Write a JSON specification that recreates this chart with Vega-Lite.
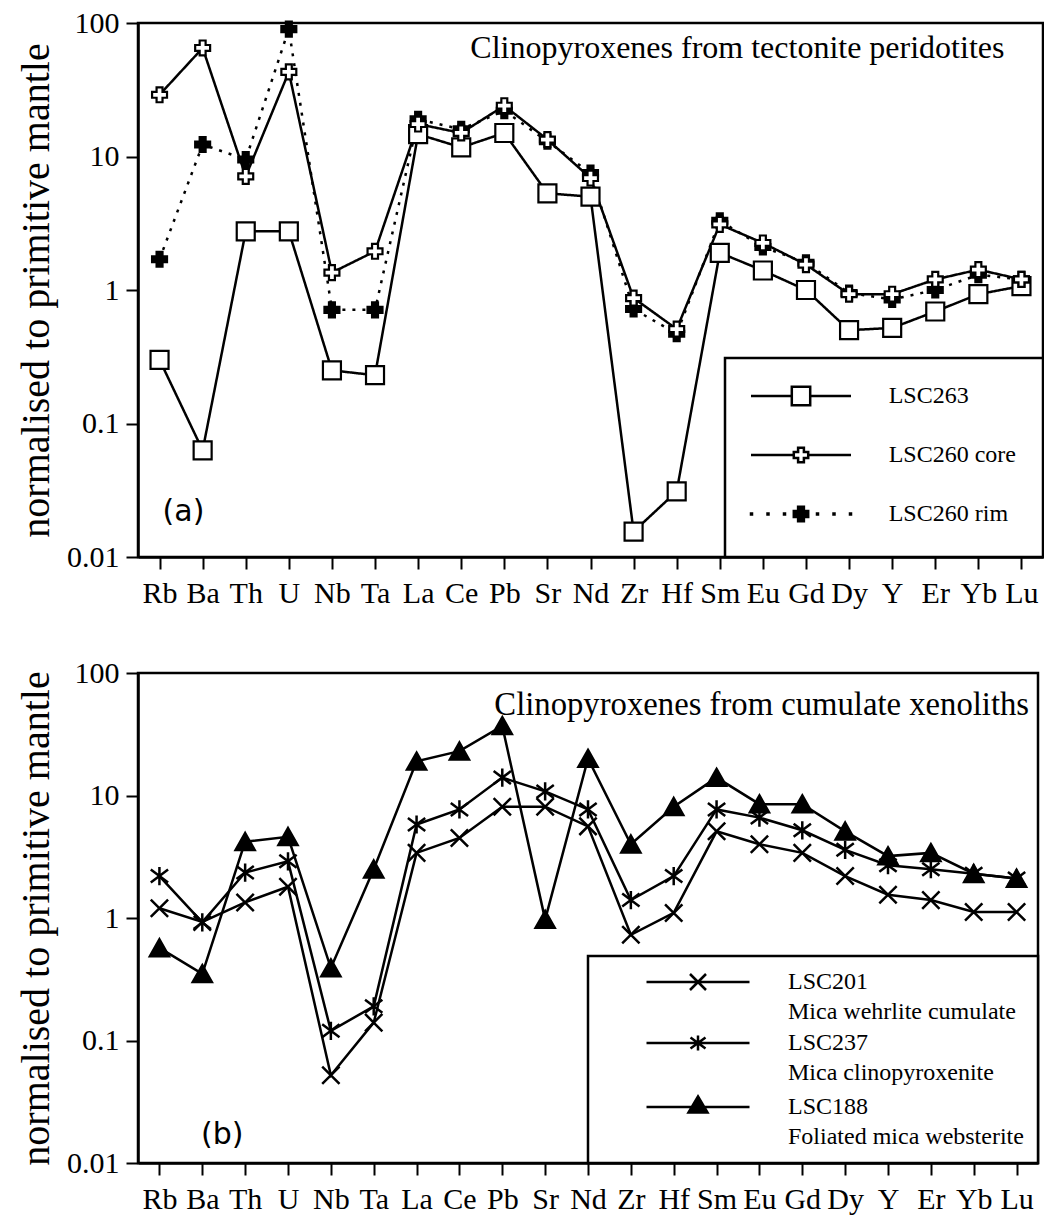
{
  "$schema": "https://vega.github.io/schema/vega-lite/v6.json",
  "background": "white",
  "padding": {"left": 15, "top": 6, "right": 0, "bottom": 0},
  "spacing": 46,
  "config": {
    "view": {"stroke": "black", "strokeWidth": 2.5},
    "font": "Liberation Serif",
    "axis": {
      "domainColor": "black", "domainWidth": 2.5,
      "tickColor": "black", "tickWidth": 2, "tickSize": 12,
      "labelColor": "black", "labelFont": "Liberation Serif", "labelFontSize": 30,
      "titleFont": "Liberation Serif", "titleFontSize": 40, "titleFontWeight": "normal", "titleColor": "black",
      "grid": false
    },
    "axisX": {"labelPadding": 9, "labelAngle": 0},
    "axisY": {"labelPadding": 7}
  },
  "datasets": {
    "a": [
      {"series": "LSC263", "element": "Rb", "value": 0.3},
      {"series": "LSC263", "element": "Ba", "value": 0.063},
      {"series": "LSC263", "element": "Th", "value": 2.75},
      {"series": "LSC263", "element": "U", "value": 2.75},
      {"series": "LSC263", "element": "Nb", "value": 0.25},
      {"series": "LSC263", "element": "Ta", "value": 0.23},
      {"series": "LSC263", "element": "La", "value": 14.7},
      {"series": "LSC263", "element": "Ce", "value": 11.7},
      {"series": "LSC263", "element": "Pb", "value": 15},
      {"series": "LSC263", "element": "Sr", "value": 5.3},
      {"series": "LSC263", "element": "Nd", "value": 5.0},
      {"series": "LSC263", "element": "Zr", "value": 0.0155},
      {"series": "LSC263", "element": "Hf", "value": 0.031},
      {"series": "LSC263", "element": "Sm", "value": 1.9},
      {"series": "LSC263", "element": "Eu", "value": 1.4},
      {"series": "LSC263", "element": "Gd", "value": 1.0},
      {"series": "LSC263", "element": "Dy", "value": 0.5},
      {"series": "LSC263", "element": "Y", "value": 0.52},
      {"series": "LSC263", "element": "Er", "value": 0.69},
      {"series": "LSC263", "element": "Yb", "value": 0.93},
      {"series": "LSC263", "element": "Lu", "value": 1.07},
      {"series": "LSC260 rim", "element": "Rb", "value": 1.7},
      {"series": "LSC260 rim", "element": "Ba", "value": 12.3},
      {"series": "LSC260 rim", "element": "Th", "value": 9.5},
      {"series": "LSC260 rim", "element": "U", "value": 90},
      {"series": "LSC260 rim", "element": "Nb", "value": 0.71},
      {"series": "LSC260 rim", "element": "Ta", "value": 0.71},
      {"series": "LSC260 rim", "element": "La", "value": 19},
      {"series": "LSC260 rim", "element": "Ce", "value": 16},
      {"series": "LSC260 rim", "element": "Pb", "value": 22},
      {"series": "LSC260 rim", "element": "Sr", "value": 13},
      {"series": "LSC260 rim", "element": "Nd", "value": 7.5},
      {"series": "LSC260 rim", "element": "Zr", "value": 0.72},
      {"series": "LSC260 rim", "element": "Hf", "value": 0.47},
      {"series": "LSC260 rim", "element": "Sm", "value": 3.3},
      {"series": "LSC260 rim", "element": "Eu", "value": 2.1},
      {"series": "LSC260 rim", "element": "Gd", "value": 1.6},
      {"series": "LSC260 rim", "element": "Dy", "value": 0.95},
      {"series": "LSC260 rim", "element": "Y", "value": 0.85},
      {"series": "LSC260 rim", "element": "Er", "value": 1.0},
      {"series": "LSC260 rim", "element": "Yb", "value": 1.3},
      {"series": "LSC260 rim", "element": "Lu", "value": 1.2},
      {"series": "LSC260 core", "element": "Rb", "value": 29},
      {"series": "LSC260 core", "element": "Ba", "value": 65},
      {"series": "LSC260 core", "element": "Th", "value": 7.1},
      {"series": "LSC260 core", "element": "U", "value": 43},
      {"series": "LSC260 core", "element": "Nb", "value": 1.35},
      {"series": "LSC260 core", "element": "Ta", "value": 1.95},
      {"series": "LSC260 core", "element": "La", "value": 17.5},
      {"series": "LSC260 core", "element": "Ce", "value": 15},
      {"series": "LSC260 core", "element": "Pb", "value": 24},
      {"series": "LSC260 core", "element": "Sr", "value": 13.4},
      {"series": "LSC260 core", "element": "Nd", "value": 6.9},
      {"series": "LSC260 core", "element": "Zr", "value": 0.87},
      {"series": "LSC260 core", "element": "Hf", "value": 0.51},
      {"series": "LSC260 core", "element": "Sm", "value": 3.1},
      {"series": "LSC260 core", "element": "Eu", "value": 2.25},
      {"series": "LSC260 core", "element": "Gd", "value": 1.55},
      {"series": "LSC260 core", "element": "Dy", "value": 0.93},
      {"series": "LSC260 core", "element": "Y", "value": 0.93},
      {"series": "LSC260 core", "element": "Er", "value": 1.2},
      {"series": "LSC260 core", "element": "Yb", "value": 1.42},
      {"series": "LSC260 core", "element": "Lu", "value": 1.2}
    ],
    "b": [
      {"series": "LSC201", "element": "Rb", "value": 1.2},
      {"series": "LSC201", "element": "Ba", "value": 0.93},
      {"series": "LSC201", "element": "Th", "value": 1.34},
      {"series": "LSC201", "element": "U", "value": 1.8},
      {"series": "LSC201", "element": "Nb", "value": 0.052},
      {"series": "LSC201", "element": "Ta", "value": 0.14},
      {"series": "LSC201", "element": "La", "value": 3.4},
      {"series": "LSC201", "element": "Ce", "value": 4.5},
      {"series": "LSC201", "element": "Pb", "value": 8.1},
      {"series": "LSC201", "element": "Sr", "value": 8.1},
      {"series": "LSC201", "element": "Nd", "value": 5.6},
      {"series": "LSC201", "element": "Zr", "value": 0.73},
      {"series": "LSC201", "element": "Hf", "value": 1.1},
      {"series": "LSC201", "element": "Sm", "value": 5.1},
      {"series": "LSC201", "element": "Eu", "value": 4.0},
      {"series": "LSC201", "element": "Gd", "value": 3.4},
      {"series": "LSC201", "element": "Dy", "value": 2.2},
      {"series": "LSC201", "element": "Y", "value": 1.55},
      {"series": "LSC201", "element": "Er", "value": 1.4},
      {"series": "LSC201", "element": "Yb", "value": 1.12},
      {"series": "LSC201", "element": "Lu", "value": 1.12},
      {"series": "LSC237", "element": "Rb", "value": 2.2},
      {"series": "LSC237", "element": "Ba", "value": 0.92},
      {"series": "LSC237", "element": "Th", "value": 2.35},
      {"series": "LSC237", "element": "U", "value": 2.9},
      {"series": "LSC237", "element": "Nb", "value": 0.12},
      {"series": "LSC237", "element": "Ta", "value": 0.19},
      {"series": "LSC237", "element": "La", "value": 5.8},
      {"series": "LSC237", "element": "Ce", "value": 7.7},
      {"series": "LSC237", "element": "Pb", "value": 14},
      {"series": "LSC237", "element": "Sr", "value": 10.8},
      {"series": "LSC237", "element": "Nd", "value": 7.7},
      {"series": "LSC237", "element": "Zr", "value": 1.4},
      {"series": "LSC237", "element": "Hf", "value": 2.2},
      {"series": "LSC237", "element": "Sm", "value": 7.7},
      {"series": "LSC237", "element": "Eu", "value": 6.6},
      {"series": "LSC237", "element": "Gd", "value": 5.2},
      {"series": "LSC237", "element": "Dy", "value": 3.6},
      {"series": "LSC237", "element": "Y", "value": 2.7},
      {"series": "LSC237", "element": "Er", "value": 2.5},
      {"series": "LSC237", "element": "Yb", "value": 2.3},
      {"series": "LSC237", "element": "Lu", "value": 2.1},
      {"series": "LSC188", "element": "Rb", "value": 0.57},
      {"series": "LSC188", "element": "Ba", "value": 0.35},
      {"series": "LSC188", "element": "Th", "value": 4.2},
      {"series": "LSC188", "element": "U", "value": 4.6},
      {"series": "LSC188", "element": "Nb", "value": 0.39},
      {"series": "LSC188", "element": "Ta", "value": 2.5},
      {"series": "LSC188", "element": "La", "value": 19},
      {"series": "LSC188", "element": "Ce", "value": 23},
      {"series": "LSC188", "element": "Pb", "value": 37},
      {"series": "LSC188", "element": "Sr", "value": 0.97},
      {"series": "LSC188", "element": "Nd", "value": 20},
      {"series": "LSC188", "element": "Zr", "value": 4.0},
      {"series": "LSC188", "element": "Hf", "value": 8.1},
      {"series": "LSC188", "element": "Sm", "value": 14},
      {"series": "LSC188", "element": "Eu", "value": 8.5},
      {"series": "LSC188", "element": "Gd", "value": 8.5},
      {"series": "LSC188", "element": "Dy", "value": 5.1},
      {"series": "LSC188", "element": "Y", "value": 3.2},
      {"series": "LSC188", "element": "Er", "value": 3.4},
      {"series": "LSC188", "element": "Yb", "value": 2.3},
      {"series": "LSC188", "element": "Lu", "value": 2.1}
    ]
  },
  "vconcat": [
    {
      "width": 905,
      "height": 534,
      "layer": [
        {
          "data": {"name": "a"},
          "mark": {"type": "line", "color": "black", "strokeWidth": 2.5, "strokeCap": "butt"},
          "encoding": {
            "x": {"field": "element", "type": "nominal",
              "sort": ["Rb","Ba","Th","U","Nb","Ta","La","Ce","Pb","Sr","Nd","Zr","Hf","Sm","Eu","Gd","Dy","Y","Er","Yb","Lu"],
              "scale": {"type": "point", "padding": 0.5, "domain": ["Rb","Ba","Th","U","Nb","Ta","La","Ce","Pb","Sr","Nd","Zr","Hf","Sm","Eu","Gd","Dy","Y","Er","Yb","Lu"]},
              "axis": {"title": null, "labelAngle": 0}},
            "y": {"field": "value", "type": "quantitative",
              "scale": {"type": "log", "domain": [0.01, 100]},
              "axis": {"values": [0.01, 0.1, 1, 10, 100], "format": "~g", "title": "normalised to primitive mantle", "titlePadding": 10}},
            "detail": {"field": "series"},
            "strokeDash": {"field": "series", "type": "nominal",
              "scale": {"domain": ["LSC263", "LSC260 core", "LSC260 rim"], "range": [[1, 0], [1, 0], [3, 7]]},
              "legend": null}
          }
        },
        {
          "data": {"name": "a"},
          "mark": {"type": "point", "filled": true, "stroke": "black", "strokeWidth": 2.2, "opacity": 1, "size": 324},
          "encoding": {
            "x": {"field": "element", "type": "nominal"},
            "y": {"field": "value", "type": "quantitative"},
            "shape": {"field": "series", "type": "nominal",
              "scale": {"domain": ["LSC263", "LSC260 core", "LSC260 rim"],
                "range": ["M-1,-1H1V1H-1Z",
                  "M-0.83,-0.33H-0.33V-0.83H0.33V-0.33H0.83V0.33H0.33V0.83H-0.33V0.33H-0.83Z",
                  "M-0.83,-0.33H-0.33V-0.83H0.33V-0.33H0.83V0.33H0.33V0.83H-0.33V0.33H-0.83Z"]},
              "legend": null},
            "fill": {"field": "series", "type": "nominal",
              "scale": {"domain": ["LSC263", "LSC260 core", "LSC260 rim"], "range": ["white", "white", "black"]},
              "legend": null}
          }
        },
        {
          "data": {"name": "a"},
          "transform": [{"filter": "false"}],
          "mark": {"type": "point", "filled": true, "stroke": "black", "strokeWidth": 2.5, "opacity": 1},
          "encoding": {
            "shape": {"field": "series", "type": "nominal",
              "scale": {"domain": ["LSC263", "LSC260 core", "LSC260 rim"],
                "range": ["M-5,0H-0.92M0.92,0H5M-0.92,-0.92H0.92V0.92H-0.92Z",
                  "M-5,0H-0.72M0.72,0H5M-0.72,-0.29H-0.29V-0.72H0.29V-0.29H0.72V0.29H0.29V0.72H-0.29V0.29H-0.72Z",
                  "M-5,-0.05h0.1v0.1h-0.1zM-3.35,-0.05h0.1v0.1h-0.1zM-1.7,-0.05h0.1v0.1h-0.1zM1.6,-0.05h0.1v0.1h-0.1zM3.25,-0.05h0.1v0.1h-0.1zM4.9,-0.05h0.1v0.1h-0.1zM-0.72,-0.29H-0.29V-0.72H0.29V-0.29H0.72V0.29H0.29V0.72H-0.29V0.29H-0.72Z"]},
              "legend": {"title": null, "orient": "bottom-right", "offset": 0, "padding": 26,
                "strokeColor": "black", "fillColor": "white",
                "symbolSize": 400, "symbolStrokeWidth": 2.5, "symbolStrokeColor": "black",
                "symbolOffset": 38, "labelOffset": 75.7, "rowPadding": 29,
                "labelFont": "Liberation Serif", "labelFontSize": 24, "labelColor": "black", "labelLimit": 400,
                "labelExpr": "[datum.label, '']",
                "encoding": {"legend": {"strokeWidth": {"value": 2.5}}, "labels": {"lineHeight": {"value": 5}}}}},
            "color": {"field": "series", "type": "nominal",
              "scale": {"domain": ["LSC263", "LSC260 core", "LSC260 rim"], "range": ["white", "white", "black"]},
              "legend": {"title": null, "orient": "bottom-right", "offset": 0, "padding": 26,
                "strokeColor": "black", "fillColor": "white",
                "symbolSize": 400, "symbolStrokeWidth": 2.5, "symbolStrokeColor": "black",
                "symbolOffset": 38, "labelOffset": 75.7, "rowPadding": 29,
                "labelFont": "Liberation Serif", "labelFontSize": 24, "labelColor": "black", "labelLimit": 400,
                "labelExpr": "[datum.label, '']",
                "encoding": {"legend": {"strokeWidth": {"value": 2.5}}, "labels": {"lineHeight": {"value": 5}}}}}
          }
        },
        {
          "data": {"values": [{"note": "Clinopyroxenes from tectonite peridotites"}]},
          "mark": {"type": "text", "align": "right", "baseline": "middle",
            "font": "Liberation Serif", "fontSize": 32, "color": "black", "dx": -17},
          "encoding": {
            "text": {"field": "note", "type": "nominal"},
            "x": {"datum": "Lu", "type": "nominal"},
            "y": {"datum": 65, "type": "quantitative"}}
        },
        {
          "data": {"values": [{"note": "(a)"}]},
          "mark": {"type": "text", "align": "left", "baseline": "middle",
            "font": "DejaVu Sans", "fontSize": 30, "color": "black", "dx": 3},
          "encoding": {
            "text": {"field": "note", "type": "nominal"},
            "x": {"datum": "Rb", "type": "nominal"},
            "y": {"datum": 0.0217, "type": "quantitative"}}
        }
      ],
      "resolve": {"scale": {"shape": "independent", "fill": "independent", "color": "independent"}}
    },
    {
      "width": 900,
      "height": 490,
      "layer": [
        {
          "data": {"name": "b"},
          "mark": {"type": "line", "color": "black", "strokeWidth": 2.5},
          "encoding": {
            "x": {"field": "element", "type": "nominal",
              "sort": ["Rb","Ba","Th","U","Nb","Ta","La","Ce","Pb","Sr","Nd","Zr","Hf","Sm","Eu","Gd","Dy","Y","Er","Yb","Lu"],
              "scale": {"type": "point", "padding": 0.5, "domain": ["Rb","Ba","Th","U","Nb","Ta","La","Ce","Pb","Sr","Nd","Zr","Hf","Sm","Eu","Gd","Dy","Y","Er","Yb","Lu"]},
              "axis": {"title": null, "labelAngle": 0}},
            "y": {"field": "value", "type": "quantitative",
              "scale": {"type": "log", "domain": [0.01, 100]},
              "axis": {"values": [0.01, 0.1, 1, 10, 100], "format": "~g", "title": "normalised to primitive mantle", "titlePadding": 10}},
            "detail": {"field": "series"}
          }
        },
        {
          "data": {"name": "b"},
          "mark": {"type": "point", "filled": true, "color": "black", "stroke": "black", "strokeWidth": 2.5, "opacity": 1, "size": 300},
          "encoding": {
            "x": {"field": "element", "type": "nominal"},
            "y": {"field": "value", "type": "quantitative"},
            "shape": {"field": "series", "type": "nominal",
              "scale": {"domain": ["LSC201", "LSC237", "LSC188"],
                "range": ["M-1,-1L1,1M-1,1L1,-1",
                  "M-1,-0.75L1,0.75M-1,0.75L1,-0.75M0,-1.05V1.05",
                  "M0,-1L1.1,0.95H-1.1Z"]},
              "legend": null}
          }
        },
        {
          "data": {"name": "b"},
          "transform": [{"filter": "false"}],
          "mark": {"type": "point", "filled": true, "color": "black", "stroke": "black", "strokeWidth": 2.5, "opacity": 1},
          "encoding": {
            "shape": {"field": "series", "type": "nominal",
              "scale": {"domain": ["LSC201", "LSC237", "LSC188"],
                "range": ["M-5.15,0H5.15M-0.8,-0.8L0.8,0.8M-0.8,0.8L0.8,-0.8",
                  "M-5.15,0H5.15M-0.75,-0.55L0.75,0.55M-0.75,0.55L0.75,-0.55M0,-0.75V0.75",
                  "M-5.15,0H5.15M0,-1.05L0.95,0.55H-0.95Z"]},
              "legend": {"title": null, "orient": "bottom-right", "offset": 0, "padding": 14,
                "strokeColor": "black", "fillColor": "white",
                "symbolSize": 400, "symbolStrokeWidth": 2.5, "symbolStrokeColor": "black",
                "symbolOffset": 84, "labelOffset": 78, "rowPadding": 6,
                "labelFont": "Liberation Serif", "labelFontSize": 24, "labelColor": "black", "labelLimit": 400,
                "labelExpr": "datum.label == 'LSC201' ? ['LSC201', 'Mica wehrlite cumulate'] : datum.label == 'LSC237' ? ['LSC237', 'Mica clinopyroxenite'] : ['LSC188', 'Foliated mica websterite']",
                "encoding": {
                  "labels": {"lineHeight": {"value": 30}},
                  "legend": {"strokeWidth": {"value": 2.5}},
                  "symbols": {"stroke": {"value": "black"}, "strokeWidth": {"value": 2.5}, "fill": {"value": "black"}}
                }}}
          }
        },
        {
          "data": {"values": [{"note": "Clinopyroxenes from cumulate xenoliths"}]},
          "mark": {"type": "text", "align": "right", "baseline": "middle",
            "font": "Liberation Serif", "fontSize": 32.7, "color": "black", "dx": 12.5},
          "encoding": {
            "text": {"field": "note", "type": "nominal"},
            "x": {"datum": "Lu", "type": "nominal"},
            "y": {"datum": 54.8, "type": "quantitative"}}
        },
        {
          "data": {"values": [{"note": "(b)"}]},
          "mark": {"type": "text", "align": "left", "baseline": "middle",
            "font": "DejaVu Sans", "fontSize": 30, "color": "black", "dx": 41.6},
          "encoding": {
            "text": {"field": "note", "type": "nominal"},
            "x": {"datum": "Rb", "type": "nominal"},
            "y": {"datum": 0.0169, "type": "quantitative"}}
        }
      ],
      "resolve": {"scale": {"shape": "independent"}}
    }
  ]
}
